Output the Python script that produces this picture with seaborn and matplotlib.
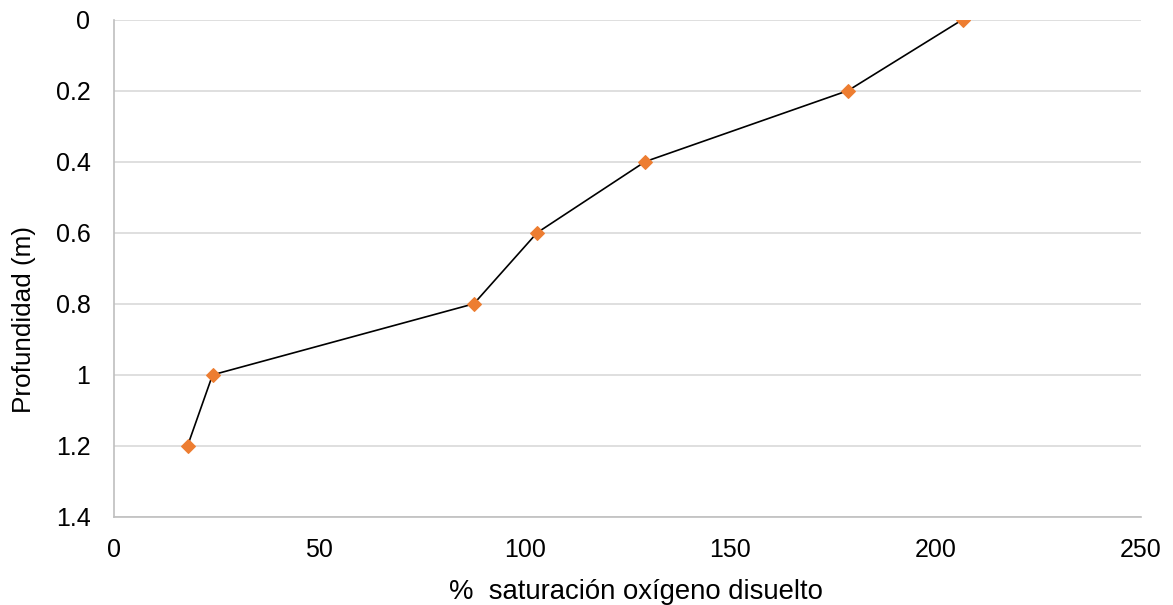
import matplotlib
matplotlib.use("Agg")
import matplotlib.pyplot as plt
import seaborn as sns
import pandas as pd

saturation = [206.6, 178.7, 129.3, 103.0, 87.6, 24.0, 17.9]
depth = [0.0, 0.2, 0.4, 0.6, 0.8, 1.0, 1.2]
x_ticks = [0, 50, 100, 150, 200, 250]
y_ticks = [0, 0.2, 0.4, 0.6, 0.8, 1, 1.2, 1.4]
y_ticklabels = ["0", "0.2", "0.4", "0.6", "0.8", "1", "1.2", "1.4"]

sns.set_theme(style="white")
plt.rcParams['font.family'] = ['Liberation Sans', 'DejaVu Sans']

df = pd.DataFrame({"sat": saturation, "depth": depth})

fig = plt.figure(figsize=(11.73, 6.05), dpi=100)
ax = fig.add_axes([114/1173, 1 - 517/605, (1141-114)/1173, (517-19.5)/605])

sns.lineplot(data=df, x="sat", y="depth", sort=False, ax=ax, color="black",
             linewidth=1.2, marker="D", markersize=7.5, markerfacecolor="#ED7D31",
             markeredgecolor="#ED7D31", zorder=3)

ax.set_xlim(0, 250)
ax.set_ylim(1.4, 0)
ax.set_xticks(x_ticks)
ax.set_yticks(y_ticks)
ax.set_yticklabels(y_ticklabels)
ax.grid(axis="y", color="#D9D9D9", linewidth=1.2)
ax.grid(axis="x", visible=False)
for s in ["top", "right"]:
    ax.spines[s].set_visible(False)
for s in ["left", "bottom"]:
    ax.spines[s].set_color("#BFBFBF")
    ax.spines[s].set_linewidth(1.2)
ax.tick_params(axis="both", length=0, labelsize=18, colors="black")
ax.tick_params(axis="x", pad=15)
ax.tick_params(axis="y", pad=17)
ax.set_xlabel("%  saturación oxígeno disuelto", fontsize=19.8, color="black")
ax.set_ylabel("Profundidad (m)", fontsize=18.8, color="black")
ax.xaxis.set_label_coords(0.508, -0.125)
ax.yaxis.set_label_coords(-0.076, 0.396)

fig.savefig("out.png", dpi=100)
